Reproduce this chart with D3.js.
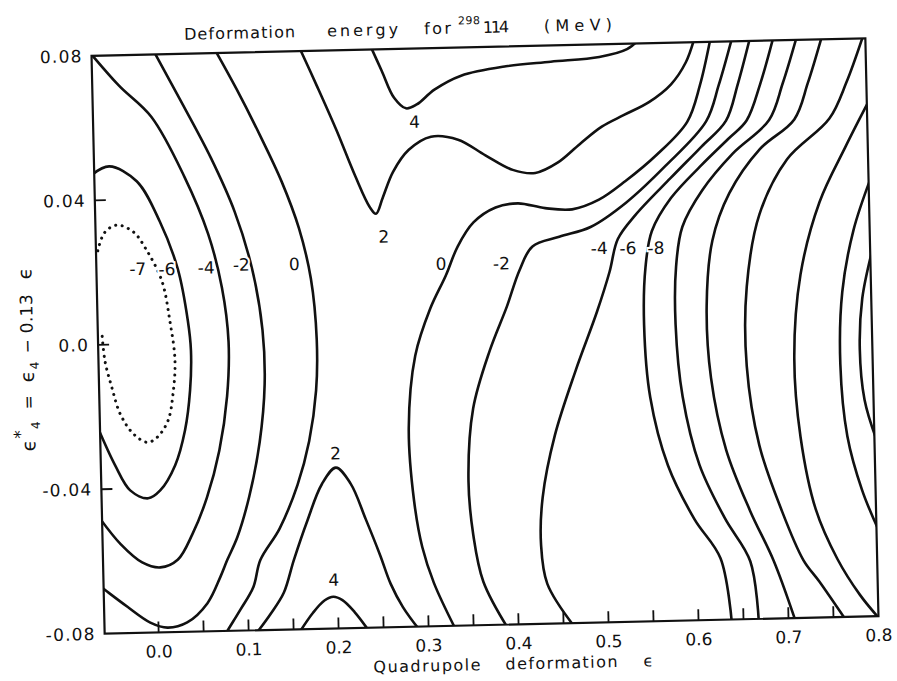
<!DOCTYPE html>
<html>
<head>
<meta charset="utf-8">
<script src="https://cdn.jsdelivr.net/npm/d3@7"></script>
<style>
  body { margin: 0; background: #fff; }
  text { font-family: "DejaVu Sans", sans-serif; fill: #111; }
</style>
</head>
<body>
<svg id="chart" width="897" height="681"></svg>
<script>
// axis values
var xDomain = [-0.06, 0.8];
var yDomain = [-0.08, 0.08];
var xMinorTicks = [0.0, 0.05, 0.1, 0.15, 0.2, 0.25, 0.3, 0.35, 0.4, 0.45, 0.5, 0.55, 0.6, 0.65, 0.7, 0.75];
var xLabels = [0.0, 0.1, 0.2, 0.3, 0.4, 0.5, 0.6, 0.7, 0.8];
var yTicks = [0.04, 0.0, -0.04];
var yLabels = [0.08, 0.04, 0.0, -0.04, -0.08];
var yLabelText = ['0.08', '0.04', '0.0', '-0.04', '-0.08'];

// contour lines, [epsilon, epsilon4*] pairs
var cM7 = [[-0.058, 0.026], [-0.05, 0.031], [-0.036, 0.033], [-0.018, 0.031], [-0.004, 0.026], [0.0124, 0.0173], [0.0203, 0.0062], [0.025, -0.0049], [0.022, -0.014], [0.0158, -0.0214], [0.0032, -0.026], [-0.008, -0.0273], [-0.0233, -0.0248], [-0.0373, -0.0192], [-0.0457, -0.012], [-0.0528, -0.0045], [-0.0554, 0.003]];
var cM6 = [[-0.062, 0.0472], [-0.043, 0.0493], [-0.013, 0.045], [0.0115, 0.0338], [0.0304, 0.0205], [0.0403, 0.0061], [0.043, -0.0022], [0.041, -0.0132], [0.0344, -0.0242], [0.0226, -0.0338], [0.0053, -0.0407], [-0.0082, -0.0428], [-0.028, -0.0405], [-0.0441, -0.0335], [-0.062, -0.0232]];
var cM4 = [[-0.062, 0.081], [-0.03, 0.0715], [0.005, 0.0627], [0.04, 0.046], [0.065, 0.03], [0.079, 0.015], [0.085, 0.0], [0.082, -0.015], [0.072, -0.03], [0.057, -0.043], [0.04, -0.053], [0.023, -0.06], [0.0036, -0.062], [-0.0165, -0.0605], [-0.04, -0.0553], [-0.062, -0.0482]];
var cM2 = [[0.009, 0.081], [0.04, 0.066], [0.07, 0.051], [0.095, 0.036], [0.113, 0.02], [0.123, 0.003], [0.124, -0.012], [0.117, -0.028], [0.104, -0.043], [0.09, -0.054], [0.078, -0.0604], [0.07, -0.065], [0.055, -0.0722], [0.032, -0.0774], [0.01, -0.0787], [-0.009, -0.0772], [-0.034, -0.0727], [-0.058, -0.068], [-0.064, -0.0668]];
var cZeroL = [[0.077, 0.081], [0.1, 0.07], [0.125, 0.057], [0.148, 0.044], [0.166, 0.031], [0.178, 0.017], [0.183, 0.0], [0.181, -0.014], [0.172, -0.028], [0.158, -0.04], [0.137, -0.052], [0.1148, -0.0606], [0.1064, -0.068], [0.0914, -0.0742], [0.0764, -0.08], [0.074, -0.081]];
var cTwoBot = [[0.108, -0.081], [0.125, -0.0755], [0.14, -0.0698], [0.152, -0.0608], [0.168, -0.05], [0.185, -0.04], [0.201, -0.0355], [0.217, -0.04], [0.233, -0.05], [0.248, -0.06], [0.259, -0.068], [0.272, -0.0745], [0.29, -0.081]];
var cFourBot = [[0.156, -0.081], [0.172, -0.0755], [0.185, -0.0722], [0.195, -0.0712], [0.205, -0.0722], [0.218, -0.0755], [0.234, -0.081]];
var cTwoTop = [[0.171, 0.081], [0.19, 0.07], [0.21, 0.058], [0.23, 0.045], [0.245, 0.0365], [0.252, 0.0345], [0.26, 0.039], [0.272, 0.046], [0.29, 0.052], [0.315, 0.0555], [0.345, 0.0545], [0.375, 0.05], [0.405, 0.0458], [0.43, 0.0448], [0.455, 0.0475], [0.48, 0.0525], [0.505, 0.0572], [0.53, 0.0603], [0.558, 0.0637], [0.583, 0.0685], [0.6, 0.0745], [0.61, 0.081]];
var cFourTop = [[0.25, 0.081], [0.262, 0.074], [0.275, 0.0665], [0.288, 0.0635], [0.3, 0.0645], [0.32, 0.0685], [0.35, 0.0722], [0.4, 0.0745], [0.45, 0.0755], [0.504, 0.0765], [0.535, 0.0785], [0.548, 0.081]];
var cZeroR = [[0.33, -0.081], [0.307, -0.068], [0.295, -0.058], [0.287, -0.045], [0.283, -0.025], [0.292, -0.005], [0.31, 0.008], [0.328, 0.017], [0.342, 0.025], [0.36, 0.0315], [0.385, 0.0355], [0.41, 0.0365], [0.44, 0.035], [0.47, 0.0345], [0.5, 0.037], [0.53, 0.042], [0.565, 0.049], [0.6, 0.058], [0.615, 0.068], [0.628, 0.081]];
var cM2R = [[0.388, -0.081], [0.362, -0.068], [0.352, -0.055], [0.348, -0.04], [0.355, -0.02], [0.375, -0.004], [0.395, 0.008], [0.41, 0.018], [0.425, 0.0245], [0.455, 0.027], [0.49, 0.0295], [0.53, 0.036], [0.575, 0.046], [0.621, 0.058], [0.636, 0.068], [0.652, 0.081]];
var cM4R = [[0.462, -0.081], [0.433, -0.069], [0.427, -0.058], [0.43, -0.045], [0.445, -0.028], [0.47, -0.01], [0.495, 0.006], [0.51, 0.017], [0.52, 0.026], [0.54, 0.0325], [0.58, 0.0425], [0.615, 0.051], [0.643, 0.058], [0.657, 0.068], [0.672, 0.081]];
var cM6R = [[0.637, -0.081], [0.626, -0.063], [0.598, -0.052], [0.57, -0.037], [0.552, -0.018], [0.547, 0.002], [0.55, 0.018], [0.558, 0.028], [0.58, 0.037], [0.615, 0.046], [0.645, 0.053], [0.666, 0.058], [0.682, 0.068], [0.698, 0.081]];
var cM8R = [[0.667, -0.081], [0.659, -0.064], [0.632, -0.052], [0.605, -0.037], [0.588, -0.018], [0.582, 0.002], [0.584, 0.018], [0.592, 0.029], [0.615, 0.039], [0.65, 0.049], [0.691, 0.058], [0.707, 0.068], [0.724, 0.081]];
var cM10R = [[0.708, -0.081], [0.685, -0.064], [0.66, -0.05], [0.635, -0.033], [0.62, -0.013], [0.617, 0.007], [0.625, 0.025], [0.645, 0.038], [0.68, 0.05], [0.719, 0.058], [0.735, 0.068], [0.752, 0.081]];
var cM12R = [[0.764, -0.081], [0.735, -0.07], [0.718, -0.064], [0.695, -0.05], [0.672, -0.032], [0.66, -0.01], [0.662, 0.012], [0.678, 0.032], [0.71, 0.047], [0.758, 0.058], [0.778, 0.068], [0.798, 0.081]];
var cM14R = [[0.802, 0.0625], [0.775, 0.05], [0.745, 0.035], [0.722, 0.015], [0.713, -0.008], [0.718, -0.03], [0.733, -0.05], [0.756, -0.064], [0.78, -0.074], [0.802, -0.081]];
var cM16R = [[0.802, 0.041], [0.782, 0.027], [0.768, 0.01], [0.764, -0.01], [0.77, -0.03], [0.785, -0.045], [0.802, -0.056]];
var cM18R = [[0.802, 0.021], [0.79, 0.008], [0.786, -0.006], [0.79, -0.02], [0.802, -0.031]];

var solidLines = [cM6, cM4, cM2, cZeroL, cTwoBot, cFourBot, cTwoTop, cFourTop, cZeroR, cM2R, cM4R, cM6R, cM8R, cM10R, cM12R, cM14R, cM16R, cM18R];
var dottedLines = [cM7];

// contour labels
var labelText = ['-7', '-6', '-4', '-2', '0', '0', '-2', '-4', '-6', '-8', '2', '4', '2', '4'];
var labelX = [-0.014, 0.0183, 0.062, 0.101, 0.16, 0.323, 0.39, 0.499, 0.531, 0.562, 0.26, 0.297, 0.201, 0.196];
var labelY = [0.0208, 0.0205, 0.0207, 0.0213, 0.0211, 0.0203, 0.02, 0.0236, 0.0234, 0.0233, 0.0282, 0.0597, -0.0315, -0.0665];

var svg = d3.select('#chart');
var plotW = 774, plotH = 578, plotLeft = 98, plotTop = 47;
// the scanned page is tilted a little
var g = svg.append('g').attr('transform', 'rotate(-1.3,485,336)');

var x = d3.scaleLinear().domain(xDomain).range([plotLeft, plotLeft + plotW]);
var y = d3.scaleLinear().domain(yDomain).range([plotTop + plotH, plotTop]);

g.append('defs').append('clipPath').attr('id', 'plotclip')
    .append('rect').attr('x', plotLeft).attr('y', plotTop).attr('width', plotW).attr('height', plotH);

var line = d3.line()
    .x(function(d) { return x(d[0]); })
    .y(function(d) { return y(d[1]); })
    .curve(d3.curveCatmullRom.alpha(0.5));

var plot = g.append('g').attr('clip-path', 'url(#plotclip)');
plot.selectAll('path.solid')
    .data(solidLines)
    .enter().append('path')
    .attr('class', 'solid')
    .attr('d', line)
    .style('fill', 'none')
    .style('stroke', '#111')
    .style('stroke-width', '2.6px')
    .style('stroke-linejoin', 'round');

plot.selectAll('path.dotted')
    .data(dottedLines)
    .enter().append('path')
    .attr('class', 'dotted')
    .attr('d', line)
    .style('fill', 'none')
    .style('stroke', '#111')
    .style('stroke-width', '3px')
    .style('stroke-linecap', 'round')
    .style('stroke-dasharray', '0.1 6.5');

// contour labels sit in small white gaps
g.selectAll('text.cl').data(labelText).enter().append('text')
    .attr('class', 'cl')
    .attr('x', function(d, i) { return x(labelX[i]); })
    .attr('y', function(d, i) { return y(labelY[i]); })
    .attr('dy', '0.36em')
    .style('text-anchor', 'middle').style('font-size', '17px')
    .style('paint-order', 'stroke').style('stroke', '#fff').style('stroke-width', '4px')
    .text(function(d) { return d; });

// frame
g.append('rect')
    .attr('x', plotLeft).attr('y', plotTop).attr('width', plotW).attr('height', plotH)
    .style('fill', 'none').style('stroke', '#111').style('stroke-width', '2.2px');

// ticks point inward
g.selectAll('line.xt').data(xMinorTicks).enter().append('line')
    .attr('x1', function(d) { return x(d); }).attr('x2', function(d) { return x(d); })
    .attr('y1', plotTop + plotH).attr('y2', plotTop + plotH - 11)
    .style('stroke', '#111').style('stroke-width', '1.8px');
g.selectAll('line.yt').data(yTicks).enter().append('line')
    .attr('x1', plotLeft).attr('x2', plotLeft + 11)
    .attr('y1', function(d) { return y(d); }).attr('y2', function(d) { return y(d); })
    .style('stroke', '#111').style('stroke-width', '1.8px');

g.selectAll('text.xl').data(xLabels).enter().append('text')
    .attr('x', function(d) { return x(d); })
    .attr('y', plotTop + plotH + 25)
    .style('text-anchor', 'middle').style('font-size', '17px')
    .text(function(d) { return d.toFixed(1); });

g.selectAll('text.yl').data(yLabels).enter().append('text')
    .attr('x', plotLeft - 9)
    .attr('y', function(d) { return y(d); })
    .attr('dy', '0.36em')
    .style('text-anchor', 'end').style('font-size', '17px').style('letter-spacing', '1.2px')
    .text(function(d, i) { return yLabelText[i]; });

// title, word by word like the lettering guide
var titleWords = ['Deformation', 'energy', 'for', '114', '(MeV)'];
var titleX = [191, 334, 431, 490, 551];
var titleW = [111, 71, 27, 26, 68];
g.selectAll('text.tw').data(titleWords).enter().append('text')
    .attr('x', function(d, i) { return titleX[i]; })
    .attr('y', 33)
    .attr('textLength', function(d, i) { return titleW[i]; })
    .attr('lengthAdjust', 'spacing')
    .style('font-size', '16px')
    .text(function(d) { return d; });
g.append('text').attr('x', 465).attr('y', 24)
    .attr('textLength', 22).attr('lengthAdjust', 'spacing')
    .style('font-size', '11px').text('298');

// x axis title
var xTitleWords = ['Quadrupole', 'deformation', '\u03F5'];
var xTitleX = [366, 498, 636];
var xTitleW = [107, 112, 9];
g.selectAll('text.xw').data(xTitleWords).enter().append('text')
    .attr('x', function(d, i) { return xTitleX[i]; })
    .attr('y', 670)
    .attr('textLength', function(d, i) { return xTitleW[i]; })
    .attr('lengthAdjust', 'spacing')
    .style('font-size', '16px')
    .text(function(d) { return d; });

// y axis title, reads upward
var yt = g.append('g').attr('transform', 'translate(33,441) rotate(-90)');
yt.append('text').attr('x', 0).attr('y', 0).style('font-size', '19px').text('\u03F5');
yt.append('text').attr('x', 13).attr('y', -9).style('font-size', '17px').text('*');
yt.append('text').attr('x', 22).attr('y', 5).style('font-size', '12px').text('4');
yt.append('text').attr('x', 42).attr('y', 0).style('font-size', '17px').text('=');
yt.append('text').attr('x', 69).attr('y', 0).style('font-size', '19px').text('\u03F5');
yt.append('text').attr('x', 82).attr('y', 5).style('font-size', '12px').text('4');
yt.append('text').attr('x', 98).attr('y', 0).style('font-size', '17px').text('\u2212');
yt.append('text').attr('x', 118).attr('y', 0).attr('textLength', 39).attr('lengthAdjust', 'spacing')
    .style('font-size', '17px').text('0.13');
yt.append('text').attr('x', 172).attr('y', 0).style('font-size', '19px').text('\u03F5');
</script>
</body>
</html>
